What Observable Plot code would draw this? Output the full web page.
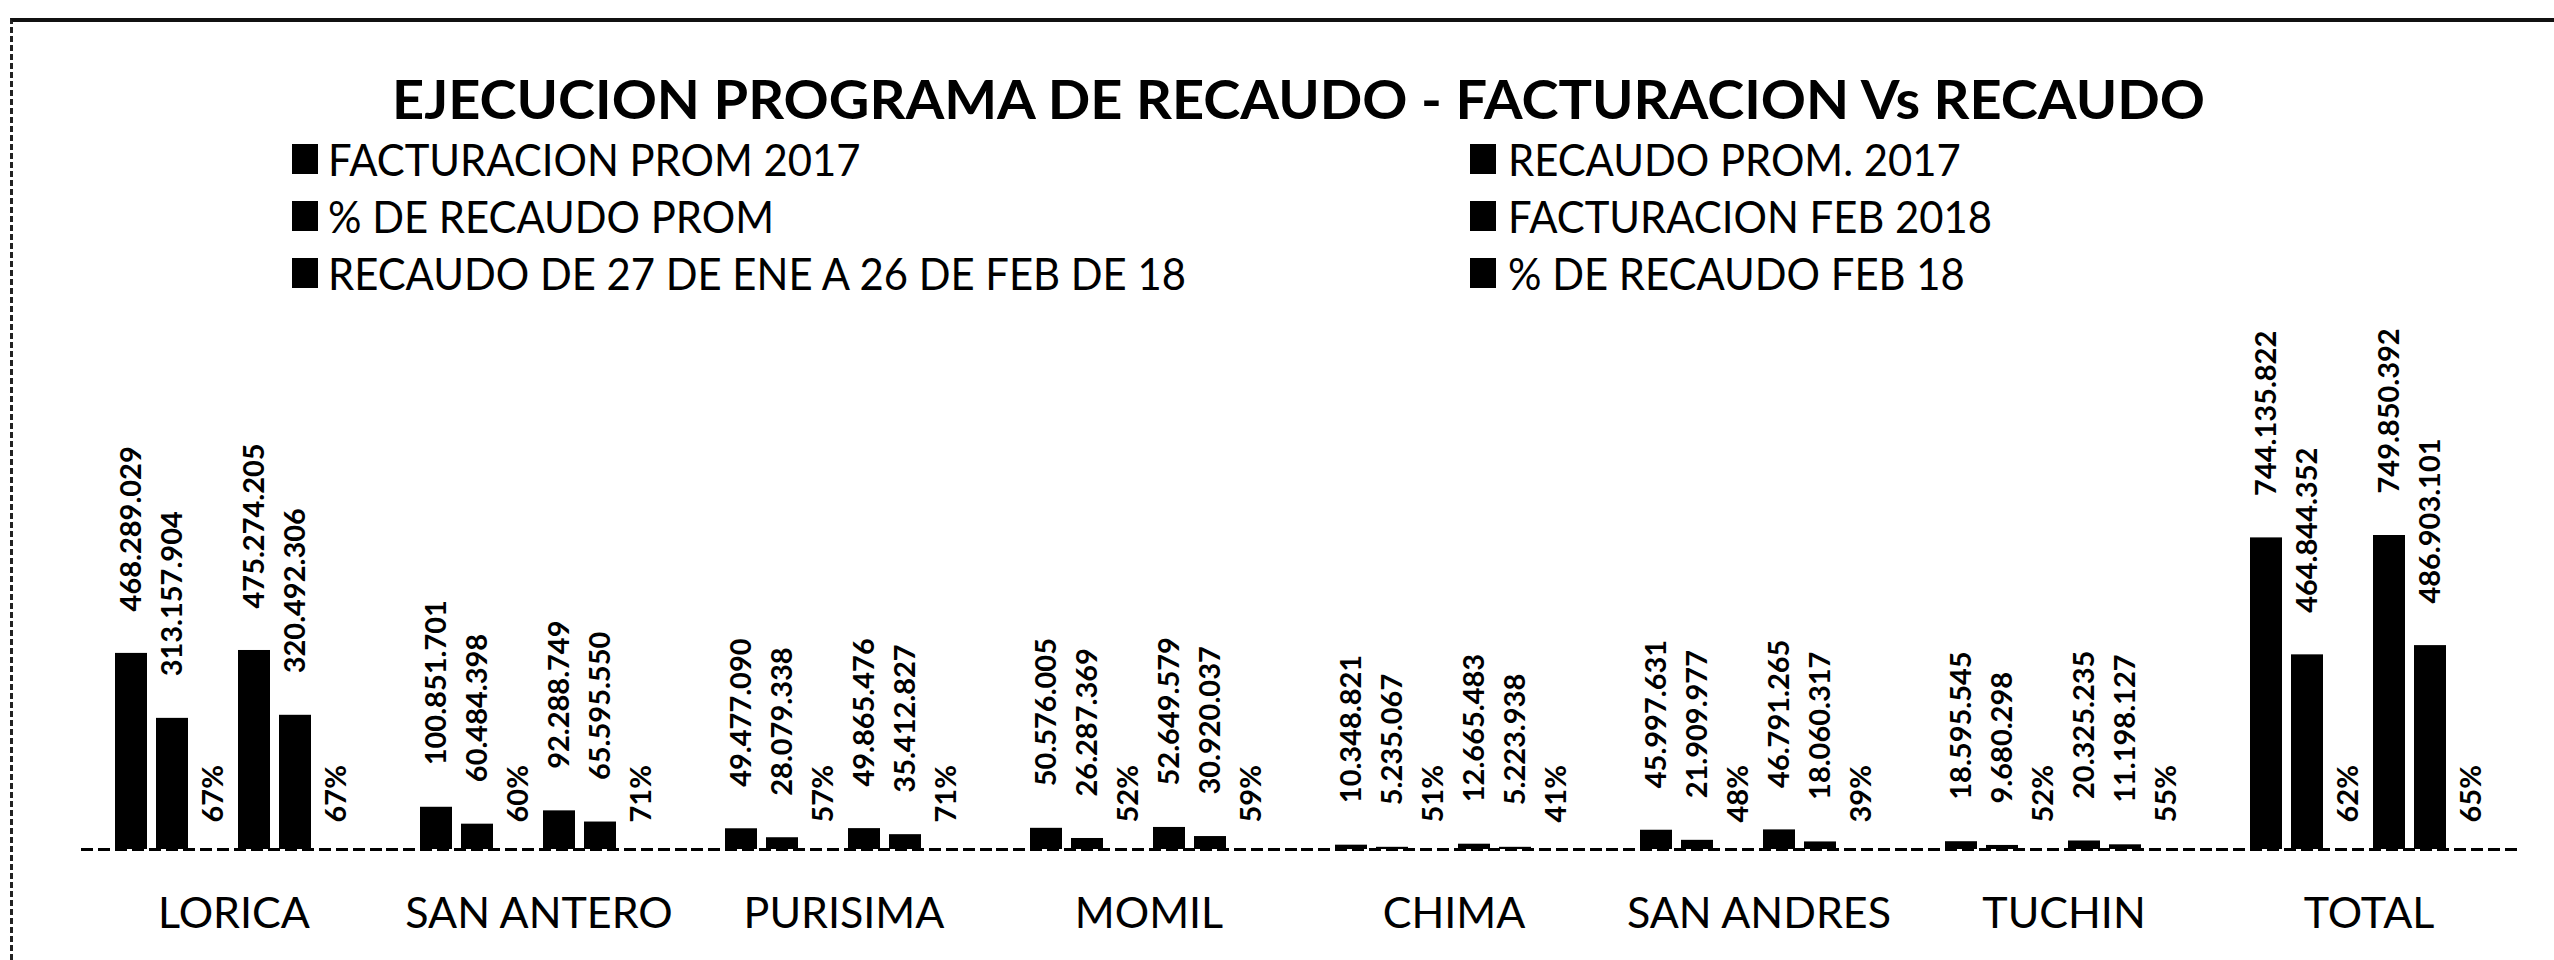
<!DOCTYPE html>
<html>
<head>
<meta charset="utf-8">
<script src="https://cdn.jsdelivr.net/npm/d3@7"></script>
<script src="https://cdn.jsdelivr.net/npm/@observablehq/plot@0.6"></script>
<style>
  html, body { margin: 0; padding: 0; background: #fff; }
  #page { position: relative; width: 2554px; height: 960px; overflow: hidden; background: #fff; font-family: Lato, "Open Sans", sans-serif; color: #000; }
  #frame { position: absolute; left: 10px; top: 18px; width: 2544px; height: 942px; border-top: 4px solid #111; border-left: 3px dashed #222; box-sizing: border-box; }
  #title { position: absolute; left: 392px; top: 76px; font-size: 54px; line-height: 46px; font-weight: 700; white-space: nowrap; transform-origin: 0 0; }
  .lg { position: absolute; font-size: 44px; line-height: 40px; white-space: nowrap; transform: scaleX(0.95); transform-origin: 0 0; }
  .sw { position: absolute; width: 26px; height: 30px; background: #000; }
  #chart { position: absolute; left: 0; top: 285px; }
</style>
</head>
<body>
<div id="page">
  <div id="frame"></div>
  <div id="title"></div>
  <div id="legend"></div>
  <div id="chart"></div>
</div>
<script>
// ---- data ----
const categories = ["LORICA", "SAN ANTERO", "PURISIMA", "MOMIL", "CHIMA", "SAN ANDRES", "TUCHIN", "TOTAL"];
const seriesNames = [
  "FACTURACION PROM 2017",
  "RECAUDO PROM. 2017",
  "% DE RECAUDO PROM",
  "FACTURACION FEB 2018",
  "RECAUDO DE 27 DE ENE A 26 DE FEB DE 18",
  "% DE RECAUDO FEB 18"
];
const facturacionProm2017 = [468289029, 100851701, 49477090, 50576005, 10348821, 45997631, 18595545, 744135822];
const recaudoProm2017     = [313157904, 60484398, 28079338, 26287369, 5235067, 21909977, 9680298, 464844352];
const pctRecaudoProm      = [0.67, 0.60, 0.57, 0.52, 0.51, 0.48, 0.52, 0.62];
const facturacionFeb2018  = [475274205, 92288749, 49865476, 52649579, 12665483, 46791265, 20325235, 749850392];
const recaudoFeb2018      = [320492306, 65595550, 35412827, 30920037, 5223938, 18060317, 11198127, 486903101];
const pctRecaudoFeb18     = [0.67, 0.71, 0.71, 0.59, 0.41, 0.39, 0.55, 0.65];
const titleText = "EJECUCION PROGRAMA DE RECAUDO - FACTURACION Vs RECAUDO";

const seriesValues = [facturacionProm2017, recaudoProm2017, pctRecaudoProm, facturacionFeb2018, recaudoFeb2018, pctRecaudoFeb18];
const isPct = [false, false, true, false, false, true];

const rows = [];
categories.forEach((cat, i) => {
  seriesNames.forEach((s, j) => {
    rows.push({cat, series: s, value: seriesValues[j][i], pct: isPct[j]});
  });
});

const loc = d3.formatLocale({decimal: ",", thousands: ".", grouping: [3], currency: ["$", ""]});
const fmtNum = loc.format(",");
const fmtPct = d3.format(".0%");

// ---- title ----
const title = document.getElementById("title");
title.textContent = titleText;

// ---- legend (two columns, row-wise like Excel) ----
const legend = document.getElementById("legend");
const colText = [328, 1508];
const colSw = [292, 1470];
const rowTop = [139, 196, 253];
seriesNames.forEach((s, j) => {
  const col = j % 2, row = Math.floor(j / 2);
  const sw = document.createElement("div");
  sw.className = "sw";
  sw.style.left = colSw[col] + "px";
  sw.style.top = (rowTop[row] + 5) + "px";
  legend.appendChild(sw);
  const t = document.createElement("div");
  t.className = "lg";
  t.style.left = colText[col] + "px";
  t.style.top = rowTop[row] + "px";
  t.textContent = s;
  legend.appendChild(t);
});

// ---- chart ----
const plot = Plot.plot({
  width: 2554,
  height: 675,
  marginLeft: 79,
  marginRight: 31,
  marginTop: 229,
  marginBottom: 111,
  style: {fontFamily: "Lato, sans-serif", background: "transparent", overflow: "visible", color: "#000"},
  fx: {domain: categories, paddingInner: 0.19, paddingOuter: 0.095},
  x: {domain: seriesNames, paddingInner: 0.22, paddingOuter: 0.11, axis: null},
  y: {domain: [0, 800000000], axis: null},
  marks: [
    Plot.barY(rows, {fx: "cat", x: "series", y: "value", fill: "#000"}),
    Plot.ruleY([0], {stroke: "#000", strokeWidth: 3, strokeDasharray: "12,5", insetLeft: -29, insetRight: -29}),
    Plot.text(rows.filter(d => !d.pct), {
      fx: "cat", x: "series", y: "value", text: d => fmtNum(d.value),
      rotate: -90, textAnchor: "start", dy: -42, fontSize: 29, fontWeight: "bold", fill: "#000"
    }),
    Plot.text(rows.filter(d => d.pct), {
      fx: "cat", x: "series", y: 0, text: d => fmtPct(d.value),
      rotate: -90, textAnchor: "start", dy: -27, fontSize: 29, fontWeight: "bold", fill: "#000"
    }),
    Plot.axisFx({anchor: "bottom", tickSize: 0, tickPadding: 48, fontSize: 43, label: null})
  ]
});
document.getElementById("chart").appendChild(plot);

// fit title width to the reference extent
requestAnimationFrame(() => {
  const w = title.getBoundingClientRect().width;
  if (w > 0) title.style.transform = `scaleX(${1813 / w})`;
});
</script>
</body>
</html>
